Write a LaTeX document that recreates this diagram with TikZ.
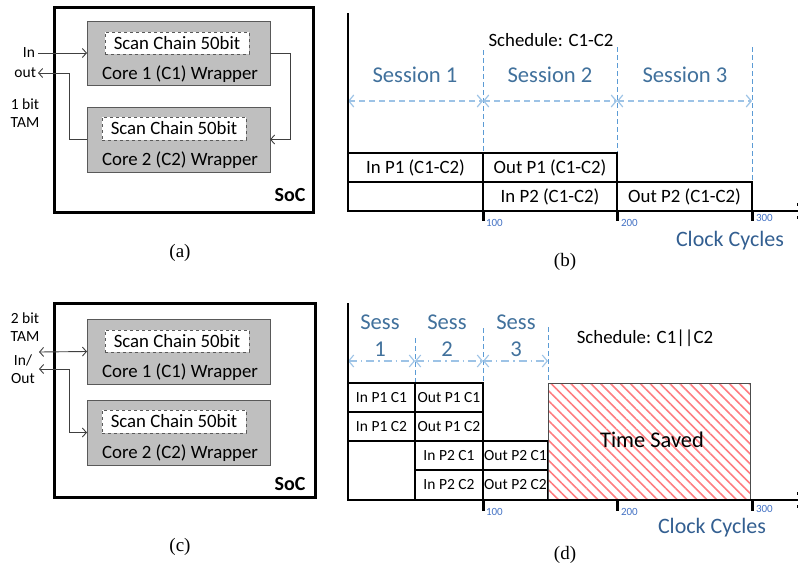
\documentclass[tikz,border=0pt]{standalone}
\usepackage{fontspec}
\setmainfont{Carlito}
\newfontfamily\capfont{Liberation Serif}
\usetikzlibrary{arrows.meta,patterns.meta}
\definecolor{sessblue}{HTML}{41719C}
\definecolor{clockblue}{HTML}{335F91}
\definecolor{dashblue}{HTML}{5B9BD5}
\definecolor{lightdash}{HTML}{9DC3E6}
\definecolor{tickblue}{HTML}{4472C4}
\definecolor{coregray}{HTML}{BFBFBF}
\definecolor{coreedge}{HTML}{595959}
\definecolor{hatchred}{HTML}{FF7C80}
\begin{document}
\begin{tikzpicture}[x=1pt,y=-1pt,
  every node/.style={inner sep=0pt, outer sep=0pt},
  txt/.style={font=\fontsize{18.8}{22}\selectfont},
  small/.style={font=\fontsize{15.5}{18}\selectfont},
  sesstxt/.style={font=\fontsize{22.6}{27}\selectfont, text=sessblue, align=center},
  clocktxt/.style={font=\fontsize{22}{26}\selectfont, text=clockblue},
  ticktxt/.style={font=\fontsize{11}{13}\selectfont, text=tickblue, anchor=west},
  captxt/.style={font=\capfont\fontsize{19}{22}\selectfont},
  socbox/.style={draw=black, line width=3pt, anchor=north west},
  corebox/.style={draw=coreedge, line width=0.9pt, fill=coregray, anchor=north west},
  scanbox/.style={draw=coreedge, dashed, line width=0.9pt, fill=white, txt},
  conn/.style={draw=black!75, line width=0.9pt, arrows={-Straight Barb[length=4pt,width=9pt]}},
  connboth/.style={draw=black!75, line width=0.9pt, arrows={Straight Barb[length=4pt,width=9pt]-Straight Barb[length=4pt,width=9pt]}},
  axisline/.style={draw=black, line width=2.5pt},
  tickmark/.style={draw=black, line width=3pt},
  barbox/.style={draw=black, line width=1.1pt, anchor=north west},
  vdash/.style={draw=dashblue, line width=0.8pt, dash pattern=on 5pt off 3pt},
  sessarrow/.style={draw=lightdash, line width=1.2pt, dash pattern=on 6pt off 4pt,
     arrows={Straight Barb[length=5pt,width=12pt]-Straight Barb[length=5pt,width=12pt]}},
  sessarrowd/.style={draw=lightdash, line width=1.1pt, dash pattern=on 8pt off 4pt on 1.2pt off 4pt,
     arrows={Straight Barb[length=5pt,width=12pt]-Straight Barb[length=5pt,width=12pt]}},
]
\useasboundingbox (0,0) rectangle (798,565);
\clip (0,0) rectangle (798,565);

%% ---------------- (a) ----------------
\node[socbox, minimum width=259pt, minimum height=205pt] (socA) at (54,7) {};
\node[corebox, minimum width=183pt, minimum height=64pt] (c1a) at (87,21) {};
\node[scanbox, minimum width=144pt, minimum height=22pt] (s1a) at (177,43) {Scan Chain 50bit};
\node[txt] (w1a) at (180,74) {Core 1 (C1) Wrapper};
\node[corebox, minimum width=183pt, minimum height=65pt] (c2a) at (87,107) {};
\node[scanbox, minimum width=144pt, minimum height=23pt] (s2a) at (174,128.5) {Scan Chain 50bit};
\node[txt] (w2a) at (180,160) {Core 2 (C2) Wrapper};
\node[font=\fontsize{20}{24}\selectfont\bfseries] (socAl) at (290,195) {SoC};
\node[small, anchor=east] (inA) at (35,53) {In};
\node[small, anchor=east] (outA) at (36,73) {out};
\node[small, align=center] (tamA) at (25,113) {1 bit\\TAM};
\draw[conn] (inA.east) ++(3,0) -- (c1a.west);
\draw[conn] (c1a.east) -- ++(20,0) |- (c2a.east);
\draw[conn] (c2a.west) -- ++(-18,0) |- ([xshift=2pt]outA.east);
\node[captxt] (capa) at (180,253) {(a)};

%% ---------------- (c) ----------------
\node[socbox, minimum width=261pt, minimum height=194pt] (socC) at (54,303) {};
\node[corebox, minimum width=183pt, minimum height=65pt] (c1c) at (87,319) {};
\node[scanbox, minimum width=144pt, minimum height=22pt] (s1c) at (177,341) {Scan Chain 50bit};
\node[txt] (w1c) at (180,372) {Core 1 (C1) Wrapper};
\node[corebox, minimum width=183pt, minimum height=65pt] (c2c) at (87,400) {};
\node[scanbox, minimum width=144pt, minimum height=23pt] (s2c) at (174,421.5) {Scan Chain 50bit};
\node[txt] (w2c) at (180,453) {Core 2 (C2) Wrapper};
\node[font=\fontsize{20}{24}\selectfont\bfseries] (socCl) at (290,484) {SoC};
\node[small, align=center] (tamC) at (25,327) {2 bit\\TAM};
\node[small, align=center] (ioC) at (23,369) {In/\\Out};
\coordinate (p1c) at (39,352);
\coordinate (p2c) at (39,369);
\draw[connboth] (p1c) -- (c1c.west);
\draw[connboth] (p2c) -- (69,369) |- (c2c.west);
\node[captxt] (capc) at (180,547) {(c)};

%% ---------------- (b) ----------------
\draw[vdash] (483,50) -- (483,211);
\draw[vdash] (617,47) -- (617,211);
\draw[vdash] (752,47) -- (752,211);
\node[barbox, txt, minimum width=135pt, minimum height=29pt] (b1) at (348,153) {In P1 (C1-C2)};
\node[barbox, txt, minimum width=134pt, minimum height=29pt] (b2) at (483,153) {Out P1 (C1-C2)};
\node[barbox, minimum width=135pt, minimum height=29pt] (b3) at (348,182) {};
\node[barbox, txt, minimum width=134pt, minimum height=29pt] (b4) at (483,182) {In P2 (C1-C2)};
\node[barbox, txt, minimum width=135pt, minimum height=29pt] (b5) at (617,182) {Out P2 (C1-C2)};
\coordinate (bs0) at (348,101);
\coordinate (bs1) at (483,101);
\coordinate (bs2) at (617,101);
\coordinate (bs3) at (752,101);
\draw[sessarrow] (bs0) -- (bs1);
\draw[sessarrow] (bs1) -- (bs2);
\draw[sessarrow] (bs2) -- (bs3);
\node[sesstxt] (bl1) at (415,75) {Session 1};
\node[sesstxt] (bl2) at (550,75) {Session 2};
\node[sesstxt] (bl3) at (685,75) {Session 3};
\node[txt] (schb) at (551,40) {Schedule: C1-C2};
\draw[axisline] (348,13) -- (348,211) -- (800,211);
\draw[black, line width=1pt] (797,203) -- (797,206) (797,216) -- (797,219);
\draw[tickmark] (483,210) -- (483,221);
\draw[tickmark] (617,210) -- (617,221);
\draw[tickmark] (752,210) -- (752,221);
\node[ticktxt] (t1b) at (486,223) {100};
\node[ticktxt] (t2b) at (621,223) {200};
\node[ticktxt] (t3b) at (756,218) {300};
\node[clocktxt] (ccb) at (730,241) {Clock Cycles};
\node[captxt] (capb) at (565,262) {(b)};

%% ---------------- (d) ----------------
\draw[vdash] (415,338) -- (415,500);
\draw[vdash] (483,328) -- (483,500);
\draw[vdash] (548,327) -- (548,383);
\node[barbox, small, minimum width=67pt, minimum height=29pt] (d1) at (348,383) {In P1 C1};
\node[barbox, small, minimum width=68pt, minimum height=29pt] (d2) at (415,383) {Out P1 C1};
\node[barbox, small, minimum width=67pt, minimum height=29pt] (d3) at (348,412) {In P1 C2};
\node[barbox, small, minimum width=68pt, minimum height=29pt] (d4) at (415,412) {Out P1 C2};
\node[barbox, minimum width=67pt, minimum height=59pt] (d5) at (348,441) {};
\node[barbox, small, minimum width=68pt, minimum height=29pt] (d6) at (415,441) {In P2 C1};
\node[barbox, small, minimum width=65pt, minimum height=29pt] (d7) at (483,441) {Out P2 C1};
\node[barbox, small, minimum width=68pt, minimum height=30pt] (d8) at (415,470) {In P2 C2};
\node[barbox, small, minimum width=65pt, minimum height=30pt] (d9) at (483,470) {Out P2 C2};
\node[draw=black!70, line width=0.9pt, anchor=north west, minimum width=202pt, minimum height=117pt,
  pattern={Lines[angle=-45, distance=7pt, line width=1.6pt]}, pattern color=hatchred] (ts) at (548,383) {};
\node[font=\fontsize{22.4}{26}\selectfont] (tsl) at (652,440) {Time Saved};
\coordinate (ds0) at (348,361);
\coordinate (ds1) at (415,361);
\coordinate (ds2) at (483,361);
\coordinate (ds3) at (548,361);
\draw[sessarrowd] (ds0) -- (ds1);
\draw[sessarrowd] (ds1) -- (ds2);
\draw[sessarrowd] (ds2) -- (ds3);
\node[sesstxt] (dl1) at (380,335.5) {Sess\\1};
\node[sesstxt] (dl2) at (447,335.5) {Sess\\2};
\node[sesstxt] (dl3) at (516,335.5) {Sess\\3};
\node[txt] (schd) at (645,338) {Schedule: C1||C2};
\draw[axisline] (348,303) -- (348,500) -- (800,500);
\draw[black, line width=1pt] (797,492) -- (797,495) (797,505) -- (797,508);
\draw[tickmark] (483,499) -- (483,511);
\draw[tickmark] (617,499) -- (617,511);
\draw[tickmark] (752,499) -- (752,511);
\node[ticktxt] (t1d) at (486,512) {100};
\node[ticktxt] (t2d) at (621,512) {200};
\node[ticktxt] (t3d) at (756,509) {300};
\node[clocktxt] (ccd) at (712,528) {Clock Cycles};
\node[captxt] (capd) at (565,555) {(d)};
\end{tikzpicture}
\end{document}
